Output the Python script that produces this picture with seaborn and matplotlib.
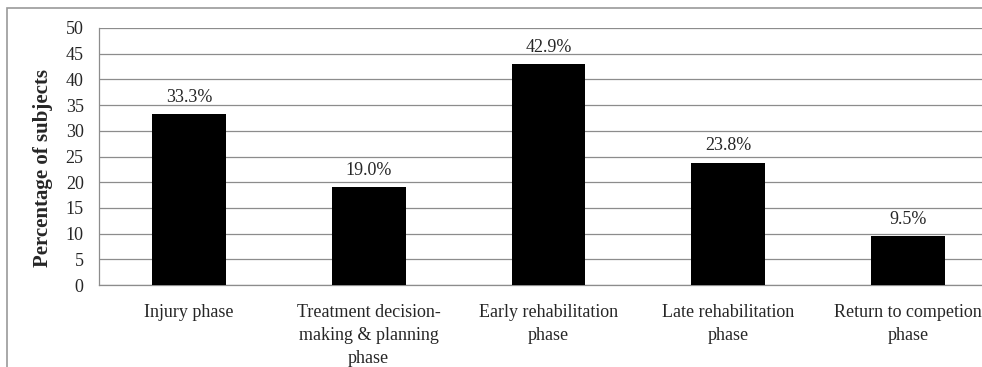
import matplotlib
matplotlib.use("Agg")
import matplotlib.pyplot as plt
from matplotlib.patches import Rectangle
import seaborn as sns
import pandas as pd

phases = [
    "Injury phase",
    "Treatment decision-\nmaking & planning\nphase",
    "Early rehabilitation\nphase",
    "Late rehabilitation\nphase",
    "Return to competion\nphase",
]
percent = [33.3, 19.0, 42.9, 23.8, 9.5]
yticks = list(range(0, 55, 5))

sns.set_style("white")
plt.rcParams["font.family"] = ["Liberation Serif", "DejaVu Serif"]

df = pd.DataFrame({"phase": phases, "percent": percent})

fig = plt.figure(figsize=(9.82, 3.67), dpi=100)
ax = fig.add_axes([99 / 982, 82 / 367, 899 / 982, 257 / 367])

sns.barplot(data=df, x="phase", y="percent", color="black", width=0.41,
            saturation=1, edgecolor="black", linewidth=0, ax=ax, zorder=3)

grid_c = "#8c8c8c"
ax.set_ylim(0, 50)
ax.set_xlim(-0.5, len(phases) - 0.5)
ax.set_yticks(yticks)
ax.yaxis.grid(True, color=grid_c, linewidth=0.9, zorder=0)
ax.set_axisbelow(True)
for s in ["top", "right"]:
    ax.spines[s].set_visible(False)
for s in ["left", "bottom"]:
    ax.spines[s].set_color(grid_c)
    ax.spines[s].set_linewidth(0.9)

fs = 13
ax.tick_params(axis="y", which="major", length=5, width=0.9, color=grid_c,
               labelsize=fs, pad=6)
ax.set_xticks(range(len(phases)))
ax.set_xticklabels(phases, fontsize=fs, linespacing=1.45)
ax.tick_params(axis="x", which="major", length=0, pad=14)
ax.set_xticks([i - 0.5 for i in range(len(phases) + 1)], minor=True)
ax.tick_params(axis="x", which="minor", length=5, width=0.9, color=grid_c)

ax.set_xlabel("")
ax.set_ylabel("Percentage of subjects", fontsize=15, fontweight="bold")
ax.yaxis.set_label_coords(-0.051, 0.455)

for i, v in enumerate(percent):
    ax.annotate(f"{v:.1f}%", (i, v), xytext=(0, 6), textcoords="offset points",
                ha="center", va="bottom", fontsize=fs)

fig.patches.append(Rectangle((7 / 982, -0.1), 1.2, (367 - 8) / 367 + 0.1,
                             transform=fig.transFigure, fill=False,
                             edgecolor="#9a9a9a", linewidth=1.2))

fig.savefig("out.png", dpi=100)
